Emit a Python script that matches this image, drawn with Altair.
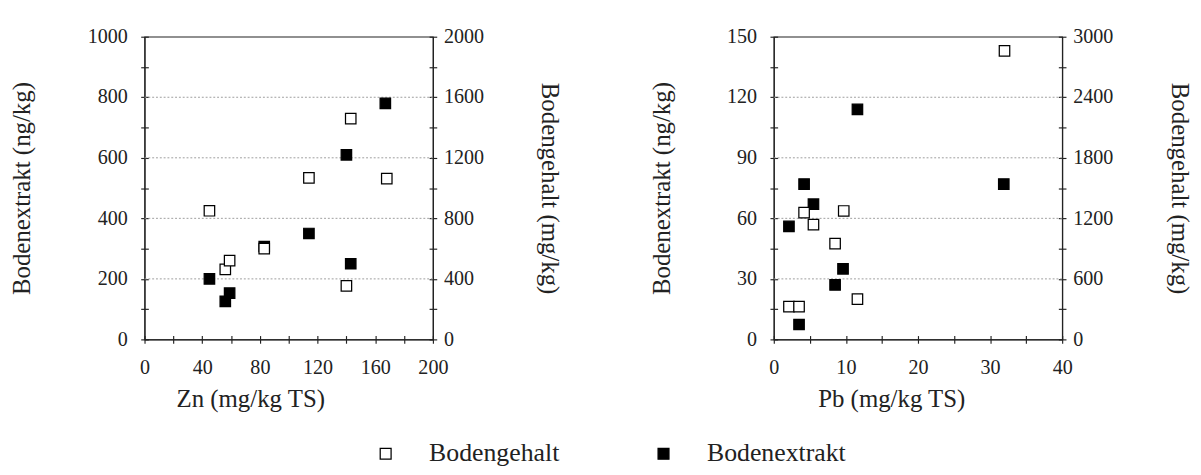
import altair as alt
import pandas as pd

# ---- data ----
zn_extrakt_x = [45, 56, 59, 83, 114, 140, 143, 167]
zn_extrakt_y = [200, 126, 153, 307, 350, 610, 250, 780]          # ng/kg (left axis)
zn_gehalt_x = [45, 56, 59, 83, 114, 143, 140, 168]
zn_gehalt_y = [850, 463, 520, 600, 1067, 1459, 354, 1063]        # mg/kg (right axis)
zn_grid = [200, 400, 600, 800]

pb_extrakt_x = [2.1, 3.5, 4.2, 5.5, 8.5, 9.6, 11.6, 31.9]
pb_extrakt_y = [56, 7.4, 77, 67, 27, 35, 114, 77]                # ng/kg (left axis)
pb_gehalt_x = [32.0, 4.2, 5.5, 9.7, 8.5, 2.1, 3.5, 11.6]
pb_gehalt_y = [2860, 1257, 1137, 1273, 950, 325, 325, 400]       # mg/kg (right axis)
pb_grid = [30, 60, 90, 120]

series_names = ["Bodengehalt", "Bodenextrakt"]

FONT = "Liberation Serif, Times New Roman, serif"
INK = "#222222"
W, H = 302, 317
TICK = 4

fill_scale = alt.Scale(domain=series_names, range=["white", "black"])
legend = alt.Legend(
    title=None, orient="none", direction="horizontal",
    legendX=239, legendY=423, padding=0,
    symbolType="square", symbolSize=130, symbolStrokeColor="black",
    symbolStrokeWidth=1.3, labelFont=FONT, labelFontSize=27, labelColor=INK,
    columnPadding=95, labelOffset=32,
)


def inner_axis(vals, orient):
    # inward half of the crossing tick marks
    return alt.Axis(values=vals, orient=orient, offset=-TICK, tickSize=TICK,
                    labels=False, domain=False, title=None, grid=False)


def panel(ex, ey, gx, gy, grid, xmax, xstep, xlab, xtitle, xt_x,
          lmax, lstep, llab, rmax, rstep, rlab,
          lt_x, rt_x):
    d_e = pd.DataFrame({"x": ex, "y": ey, "s": series_names[1]})
    d_g = pd.DataFrame({"x": gx, "y": gy, "s": series_names[0]})
    d_grid = pd.DataFrame({"y": grid})

    xvals = [round(i * xstep, 6) for i in range(int(round(xmax / xstep)) + 1)]
    lvals = [round(i * lstep, 6) for i in range(int(round(lmax / lstep)) + 1)]
    rvals = [round(i * rstep, 6) for i in range(int(round(rmax / rstep)) + 1)]

    xscale = alt.Scale(domain=[0, xmax], nice=False, zero=True)
    lscale = alt.Scale(domain=[0, lmax], nice=False)
    rscale = alt.Scale(domain=[0, rmax], nice=False)

    xaxis = alt.Axis(
        values=xvals, title=xtitle, orient="bottom", grid=False, format="d",
        labelExpr=f"datum.value % {xlab} === 0 ? datum.label : ''",
        labelFlush=False, labelOverlap=False, labelPadding=15,
        titleAlign="left", titleX=xt_x, titleY=62, titleBaseline="middle",
    )
    laxis = alt.Axis(
        values=lvals, title="Bodenextrakt (ng/kg)", orient="left", format="d",
        labelExpr=f"datum.value % {llab} === 0 ? datum.label : ''",
        labelOverlap=False, grid=False, labelPadding=14,
        titleX=lt_x,
    )
    raxis = alt.Axis(
        values=rvals, title="Bodengehalt (mg/kg)", orient="right", format="d",
        labelExpr=f"datum.value % {rlab} === 0 ? datum.label : ''",
        labelOverlap=False, grid=False, labelPadding=7, titleX=rt_x,
    )

    fill = alt.Fill("s:N", scale=fill_scale, legend=legend)

    gridlines = alt.Chart(d_grid).mark_rule(
        color="#9a9a9a", strokeDash=[2, 2], strokeWidth=1
    ).encode(
        y=alt.Y("y:Q", scale=lscale, axis=None)
    )
    g = alt.Chart(d_g).mark_square(size=120, stroke="black", strokeWidth=1.3, opacity=1).encode(
        x=alt.X("x:Q", scale=xscale, axis=None),
        y=alt.Y("y:Q", scale=rscale, axis=raxis),
        fill=fill,
    )
    e = alt.Chart(d_e).mark_square(size=120, stroke="black", strokeWidth=1.3, opacity=1).encode(
        x=alt.X("x:Q", scale=xscale, axis=xaxis),
        y=alt.Y("y:Q", scale=lscale, axis=laxis),
        fill=fill,
    )
    inner_l = alt.Chart(d_e).mark_point(opacity=0).encode(
        x=alt.X("x:Q", scale=xscale, axis=inner_axis(xvals, "bottom")),
        y=alt.Y("y:Q", scale=lscale, axis=inner_axis(lvals, "left")),
    )
    inner_r = alt.Chart(d_g).mark_point(opacity=0).encode(
        x=alt.X("x:Q", scale=xscale, axis=None),
        y=alt.Y("y:Q", scale=rscale, axis=inner_axis(rvals, "right")),
    )
    return (
        alt.layer(gridlines, inner_l, inner_r, e, g)
        .resolve_scale(y="independent")
        .resolve_axis(x="independent")
        .properties(width=W, height=H)
    )


left = panel(zn_extrakt_x, zn_extrakt_y, zn_gehalt_x, zn_gehalt_y, zn_grid,
             200, 20, 40, "Zn (mg/kg TS)", 33,
             1000, 100, 200, 2000, 200, 400,
             -115, 109)
right = panel(pb_extrakt_x, pb_extrakt_y, pb_gehalt_x, pb_gehalt_y, pb_grid,
              40, 5, 10, "Pb (mg/kg TS)", 46,
              150, 15, 30, 3000, 300, 600,
              -104, 110)

chart = alt.hconcat(left, right, spacing=90).properties(
    padding={"left": 1, "top": 7, "right": 0, "bottom": 0},
    background="white",
).configure_view(
    stroke=INK, strokeWidth=1.2
).configure_axis(
    labelFont=FONT, labelFontSize=21, labelColor=INK,
    titleFont=FONT, titleFontSize=26, titleFontWeight="normal", titleColor=INK,
    domainColor=INK, domainWidth=1.2, tickColor=INK, tickSize=TICK, tickWidth=1.2,
)

chart.save("out.html", embed_options={"renderer": "svg", "actions": False})
